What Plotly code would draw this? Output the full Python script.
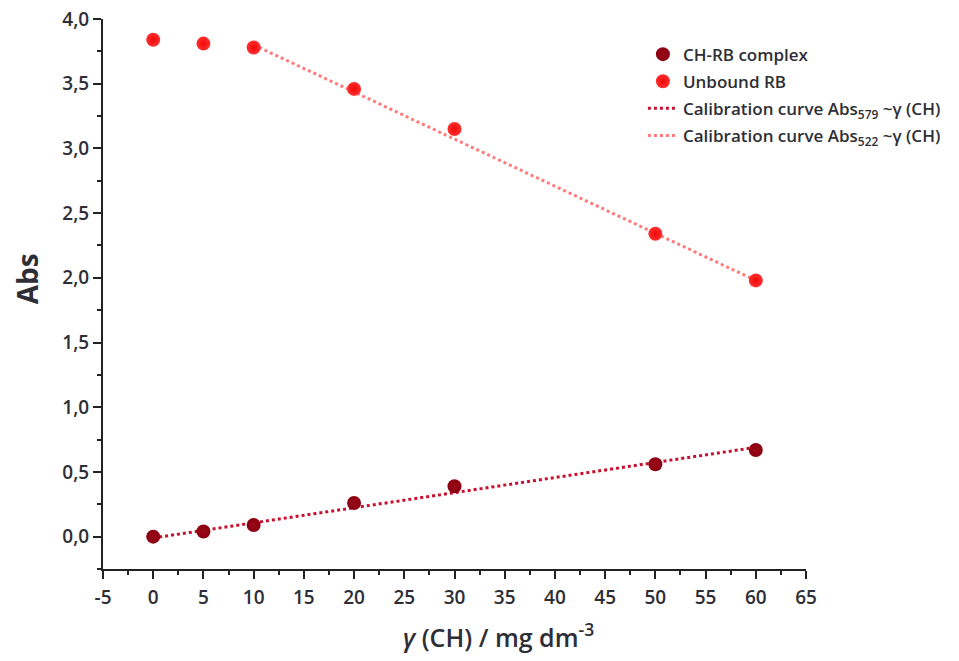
import plotly.graph_objects as go

conc = [0, 5, 10, 20, 30, 50, 60]
abs_complex = [0.00, 0.04, 0.09, 0.26, 0.39, 0.56, 0.67]
abs_unbound = [3.84, 3.81, 3.78, 3.46, 3.15, 2.34, 1.98]

fit579_x = [0, 60]
fit579_y = [-0.01, 0.69]
fit522_x = [10, 60]
fit522_y = [3.80, 1.98]

x_ticks = list(range(-5, 70, 5))
y_ticks = [0.0, 0.5, 1.0, 1.5, 2.0, 2.5, 3.0, 3.5, 4.0]
y_labels = ["0,0", "0,5", "1,0", "1,5", "2,0", "2,5", "3,0", "3,5", "4,0"]

FONT = "Open Sans"
TXT = "#2e2e36"

fig = go.Figure()
fig.add_trace(go.Scatter(
    x=fit579_x, y=fit579_y, mode="lines",
    line=dict(color="#c8102e", width=3, dash="dot"),
    name="Calibration curve Abs<sub>579</sub> ~γ (CH)", legendrank=3, legendgroup="c"))
fig.add_trace(go.Scatter(
    x=fit522_x, y=fit522_y, mode="lines",
    line=dict(color="#ff7b7b", width=3, dash="dot"),
    name="Calibration curve Abs<sub>522</sub> ~γ (CH)", legendrank=4, legendgroup="d"))
fig.add_trace(go.Scatter(
    x=conc, y=abs_complex, mode="markers",
    marker=dict(size=14, color="#8a0010",
                gradient=dict(type="radial", color="#9a0a18"),
                line=dict(width=0)),
    name="CH-RB complex", legendrank=1, legendgroup="a"))
fig.add_trace(go.Scatter(
    x=conc, y=abs_unbound, mode="markers",
    marker=dict(size=14, color="#ff3030",
                gradient=dict(type="radial", color="#f00808"),
                line=dict(width=0)),
    name="Unbound RB", legendrank=2, legendgroup="b"))

fig.update_layout(
    width=951, height=653,
    paper_bgcolor="white", plot_bgcolor="white",
    margin=dict(l=95, r=153, t=11, b=92),
    font=dict(family=FONT, color=TXT, size=15),
    showlegend=True,
    legend=dict(x=0.768, y=0.968, xanchor="left", yanchor="top",
                bgcolor="rgba(0,0,0,0)",
                font=dict(size=17, family=FONT, color=TXT, weight=600),
                itemwidth=30, tracegroupgap=2),
    xaxis=dict(
        range=[-5, 65], tickvals=x_ticks, ticktext=[str(v) for v in x_ticks],
        automargin=False, ticklabeloverflow="allow",
        showgrid=False, zeroline=False, showline=True, linecolor="#222", linewidth=2,
        ticks="outside", ticklen=8, tickwidth=2, tickcolor="#222",
        minor=dict(dtick=2.5, ticks="outside", ticklen=4, tickwidth=2, tickcolor="#222"),
        tickfont=dict(size=19, family=FONT, color=TXT, weight=600),
        ticklabelstandoff=2,
    ),
    yaxis=dict(
        range=[-0.25, 4.0], tickvals=y_ticks, ticktext=y_labels,
        automargin=False, ticklabeloverflow="allow",
        showgrid=False, zeroline=False, showline=True, linecolor="#222", linewidth=2,
        ticks="outside", ticklen=8, tickwidth=2, tickcolor="#222",
        minor=dict(dtick=0.25, ticks="outside", ticklen=4, tickwidth=2, tickcolor="#222"),
        tickfont=dict(size=19, family=FONT, color=TXT, weight=600),
    ),
    annotations=[
        dict(text="<i>γ</i> (CH) / mg dm<sup>-3</sup>", xref="paper", yref="paper",
             x=0.5633, y=-0.12, xanchor="center", yanchor="middle", showarrow=False,
             font=dict(size=25, family=FONT, color=TXT, weight=600)),
        dict(text="<b>Abs</b>", xref="paper", yref="paper",
             x=-0.108, y=0.527, xanchor="center", yanchor="middle", showarrow=False,
             textangle=-90, font=dict(size=28, family=FONT, color=TXT)),
    ],
)

fig.write_html("out.html")
